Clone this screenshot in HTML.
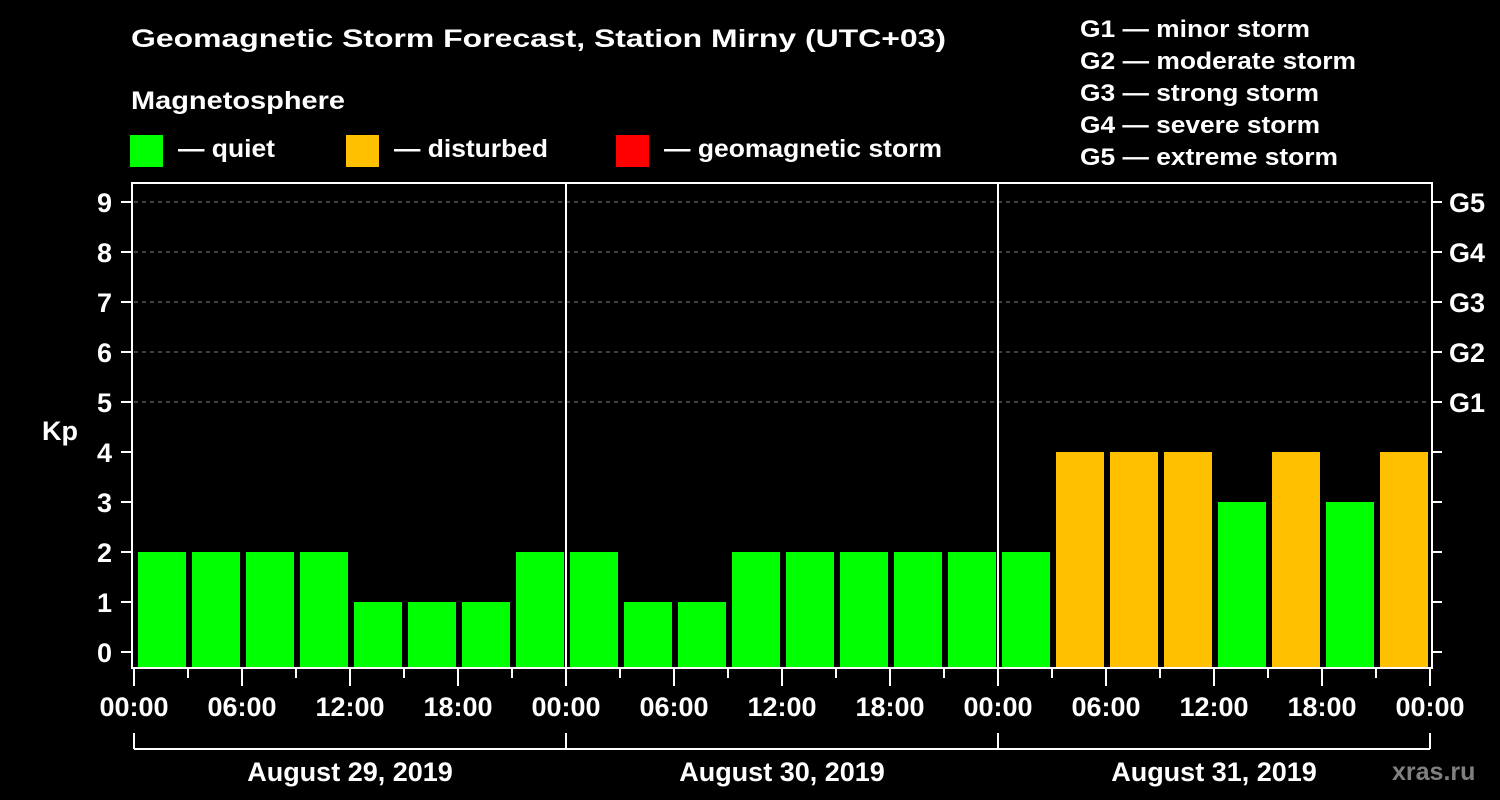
<!DOCTYPE html>
<html><head><meta charset="utf-8"><style>
html,body{margin:0;padding:0;background:#000;width:1500px;height:800px;overflow:hidden}
svg text{font-family:"Liberation Sans",Arial,sans-serif;font-weight:bold;fill:#fff}
</style></head><body>
<svg id="chart" width="1500" height="800" xmlns="http://www.w3.org/2000/svg">
<text x="131" y="47" font-size="25" textLength="815" lengthAdjust="spacingAndGlyphs">Geomagnetic Storm Forecast, Station Mirny (UTC+03)</text>
<text x="131" y="109" font-size="25" textLength="214" lengthAdjust="spacingAndGlyphs">Magnetosphere</text>
<rect x="130" y="135" width="33" height="32" fill="#00ff00"/>
<text x="178" y="157" font-size="25" textLength="97" lengthAdjust="spacingAndGlyphs">— quiet</text>
<rect x="346" y="135" width="33" height="32" fill="#ffc000"/>
<text x="394" y="157" font-size="25" textLength="154" lengthAdjust="spacingAndGlyphs">— disturbed</text>
<rect x="616" y="135" width="33" height="32" fill="#ff0000"/>
<text x="664" y="157" font-size="25" textLength="278" lengthAdjust="spacingAndGlyphs">— geomagnetic storm</text>
<g font-size="24">
<text x="1080" y="37" font-size="24" textLength="230" lengthAdjust="spacingAndGlyphs">G1 — minor storm</text>
<text x="1080" y="69" font-size="24" textLength="276" lengthAdjust="spacingAndGlyphs">G2 — moderate storm</text>
<text x="1080" y="101" font-size="24" textLength="239" lengthAdjust="spacingAndGlyphs">G3 — strong storm</text>
<text x="1080" y="133" font-size="24" textLength="240" lengthAdjust="spacingAndGlyphs">G4 — severe storm</text>
<text x="1080" y="165" font-size="24" textLength="258" lengthAdjust="spacingAndGlyphs">G5 — extreme storm</text>
</g>
<text x="42" y="440" font-size="27">Kp</text>
<text x="1392" y="780" font-size="25" style="fill:#808080">xras.ru</text>
<g id="grid"></g><g id="bars"></g><g id="axes"></g>
</svg>
<script>
const kpValues = [2,2,2,2,1,1,1,2, 2,1,1,2,2,2,2,2, 2,4,4,4,3,4,3,4];
const dayLabels = ["August 29, 2019","August 30, 2019","August 31, 2019"];
const xTickLabels = ["00:00","06:00","12:00","18:00"];
const yTicks = [0,1,2,3,4,5,6,7,8,9];
const gLabels = ["G1","G2","G3","G4","G5"];

const NS="http://www.w3.org/2000/svg";
const L=134, R=1430, T=183, B=668;
const hoursTotal=72;
function xS(h){return L+(R-L)*h/hoursTotal;}
function yS(k){return 652-50*k;}
function mk(tag,attrs,parent){const e=document.createElementNS(NS,tag);for(const k in attrs)e.setAttribute(k,attrs[k]);parent.appendChild(e);return e;}
const grid=document.getElementById('grid'), bars=document.getElementById('bars'), axes=document.getElementById('axes');

for(let k=5;k<=9;k++){
  const ln=mk('line',{x1:L,x2:R,y1:yS(k),y2:yS(k),stroke:'#808080','stroke-dasharray':'4,4','stroke-width':1},grid);
  
  
}
kpValues.forEach((v,i)=>{
  const x0=xS(i*3)+4, x1=xS(i*3+3)-2;
  const col=v>=5?'#ff0000':(v>=4?'#ffc000':'#00ff00');
  const r=mk('rect',{x:x0,y:yS(v),width:x1-x0,height:B-1-yS(v),fill:col},bars);
  
  
});
// frame
const fr=mk('rect',{x:L-2,y:T,width:R-L+4,height:B-T,fill:'none',stroke:'#fff','stroke-width':2},axes);


for(let d=1;d<dayLabels.length;d++){
  const ln=mk('line',{x1:xS(d*24),x2:xS(d*24),y1:T,y2:B,stroke:'#fff','stroke-width':2},axes);
  
  
}
yTicks.forEach(k=>{
  mk('line',{x1:L-13,x2:L-2,y1:yS(k),y2:yS(k),stroke:'#fff','stroke-width':2},axes);
  mk('line',{x1:R+2,x2:R+12,y1:yS(k),y2:yS(k),stroke:'#fff','stroke-width':2},axes);
  const t=mk('text',{x:L-22,y:yS(k)+10,'font-size':27,'text-anchor':'end'},axes);
  t.textContent=k;
  
  
});
gLabels.forEach((g,i)=>{
  const t=mk('text',{x:R+19,y:yS(i+5)+10,'font-size':27},axes);
  t.textContent=g;
  
  
});
for(let h=0;h<=hoursTotal;h+=3){
  const major=h%6===0;
  mk('line',{x1:xS(h),x2:xS(h),y1:B,y2:major?B+18:B+10,stroke:'#fff','stroke-width':2},axes);
  if(major){
    const t=mk('text',{x:xS(h),y:716,'font-size':27,'text-anchor':'middle'},axes);
    t.textContent=h===hoursTotal?xTickLabels[0]:xTickLabels[(h%24)/6];
    
    
  }
}
mk('line',{x1:xS(0),x2:xS(72),y1:749,y2:749,stroke:'#fff','stroke-width':2},axes);
for(let d=0;d<=dayLabels.length;d++){
  mk('line',{x1:xS(d*24),x2:xS(d*24),y1:733,y2:749,stroke:'#fff','stroke-width':2},axes);
}
dayLabels.forEach((s,d)=>{
  const t=mk('text',{x:xS(d*24+12),y:781,'font-size':27,'text-anchor':'middle'},axes);
  t.textContent=s;
  
  
});
</script>
</body></html>
